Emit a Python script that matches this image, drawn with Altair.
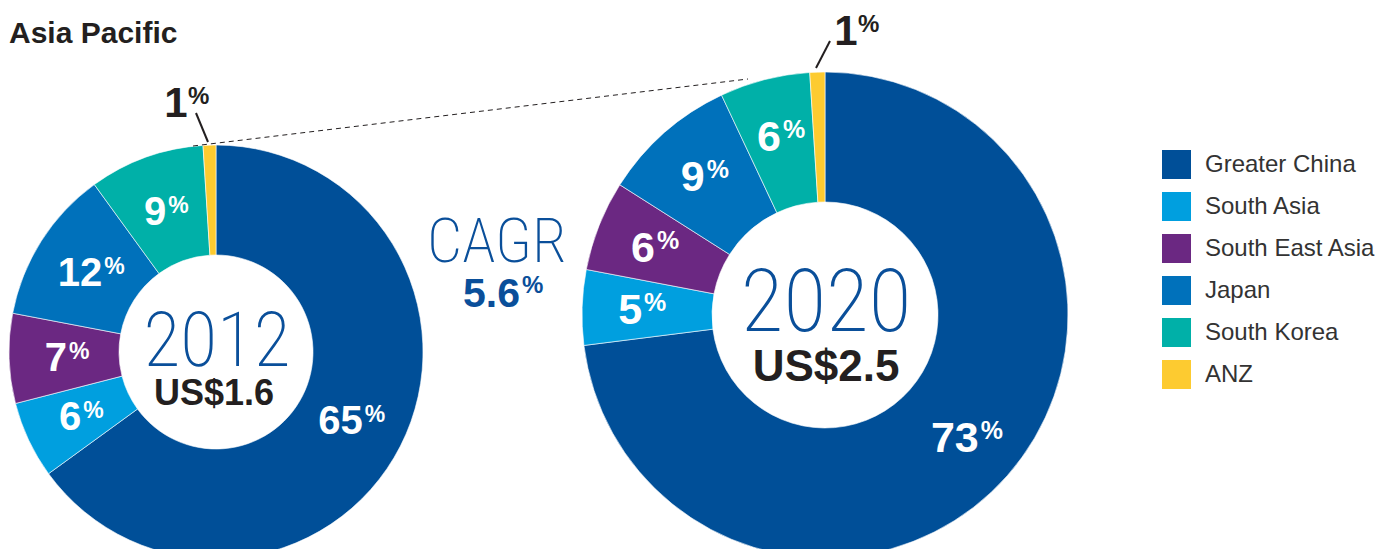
import altair as alt
import pandas as pd

# ---------------- data ----------------
regions = ["Greater China", "South Asia", "South East Asia", "Japan", "South Korea", "ANZ"]
colors = ["#004f98", "#009fdf", "#6b2882", "#0071bb", "#00b0a8", "#fdcb30"]
share_2012 = [65, 6, 7, 12, 9, 1]
share_2020 = [73, 5, 6, 9, 6, 1]
years = ["2012", "2020"]
totals = ["US$1.6", "US$2.5"]
cagr = "5.6"
title = "Asia Pacific"

BOLD = "Liberation Sans, Arial, Helvetica, sans-serif"
THIN = "Roboto Condensed, Liberation Sans Narrow, DejaVu Sans Condensed, Roboto, sans-serif"
DARK = "#231f20"
BLUE = "#0a4f9a"

color_scale = alt.Scale(domain=regions, range=colors)


def donut(shares, cx, cy, r_in, r_out, r_lab, fs, pfs, one_dx, two_dx):
    df = pd.DataFrame({"region": regions, "share": shares, "idx": list(range(len(regions)))})
    base = alt.Chart(df).encode(
        theta=alt.Theta("share:Q", stack=True),
        order=alt.Order("idx:Q"),
        detail="region:N",
        x=alt.value(cx),
        y=alt.value(cy),
    )
    arc = base.mark_arc(innerRadius=r_in, outerRadius=r_out, stroke="white", strokeWidth=0.6).encode(
        color=alt.Color("region:N", scale=color_scale, sort=regions,
                        legend=alt.Legend(title=None, orient="none", legendX=1154, legendY=142,
                                          symbolType="square", symbolSize=841, symbolStrokeWidth=0,
                                          labelFontSize=24, labelFont="Liberation Sans, Arial",
                                          labelColor="#333333", labelOffset=14, rowPadding=13,
                                          labelLimit=400, padding=0))
    )
    layers = [arc]
    for cond, dx in [("datum.share > 1 && datum.share < 10", one_dx), ("datum.share >= 10", two_dx)]:
        num = base.transform_calculate(t=f"({cond}) ? '' + datum.share : ''").mark_text(
            radius=r_lab, font=BOLD, fontWeight="bold", fontSize=fs, color="white",
            align="right", baseline="alphabetic", dx=dx, dy=round(0.358 * fs)
        ).encode(text="t:N")
        pct = base.transform_calculate(t=f"({cond}) ? '%' : ''").mark_text(
            radius=r_lab, font=BOLD, fontWeight="bold", fontSize=pfs, color="white",
            align="left", baseline="alphabetic", dx=dx + 2, dy=2
        ).encode(text="t:N")
        layers += [num, pct]
    return layers, df


layers = []
l1, df12 = donut(share_2012, 208, 344, 97, 207, 150, 40, 23, 1, 13)
l2, df20 = donut(share_2020, 817, 307, 113, 243, 185, 43, 25, 2, 15)
layers += l1 + l2

one = pd.DataFrame({"k": [0]})


def label(txt, x, y, size, color, font=BOLD, weight="bold", align="center"):
    return alt.Chart(pd.DataFrame({"t": [txt]})).mark_text(
        font=font, fontWeight=weight, fontSize=size, color=color, align=align, baseline="alphabetic"
    ).encode(text="t:N", x=alt.value(x), y=alt.value(y))


def rule(x1, y1, x2, y2, width, dash=None):
    kw = dict(color=DARK, strokeWidth=width)
    if dash:
        kw["strokeDash"] = dash
    return alt.Chart(one).mark_rule(**kw).encode(
        x=alt.value(x1), y=alt.value(y1), x2=alt.value(x2), y2=alt.value(y2))


# title
layers.append(label(title, 1, 35, 30, DARK, align="left"))
# dashed connector and leaders
layers.append(rule(185, 138, 740, 71, 1, [5, 4]))
layers.append(rule(188, 105, 200, 134, 2))
layers.append(rule(822, 33, 808, 60, 2))
# 1% labels
layers.append(label(str(share_2012[-1]), 168, 109, 42, DARK))
layers.append(label("%", 180, 96, 24, DARK, align="left"))
layers.append(label(str(share_2020[-1]), 838, 37, 42, DARK))
layers.append(label("%", 850, 24, 24, DARK, align="left"))
# centre labels
layers.append(label(years[0], 209, 358, 76, BLUE, font=THIN, weight=200))
layers.append(label(totals[0], 206, 397, 36, DARK))
layers.append(label(years[1], 818, 323, 88, BLUE, font=THIN, weight=200))
layers.append(label(totals[1], 818, 373, 44, DARK))
# CAGR
layers.append(label("CAGR", 489, 254, 62, BLUE, font=THIN, weight=200))
layers.append(label(cagr, 512, 299, 41, BLUE, align="right"))
layers.append(label("%", 514, 285, 24, BLUE, align="left"))

chart = alt.layer(*layers).properties(
    width=1378, height=541, padding=0, autosize=alt.AutoSizeParams(type="none"), background="white"
).configure_view(stroke=None)

chart.save("out.html", embed_options={"renderer": "svg", "actions": False})
